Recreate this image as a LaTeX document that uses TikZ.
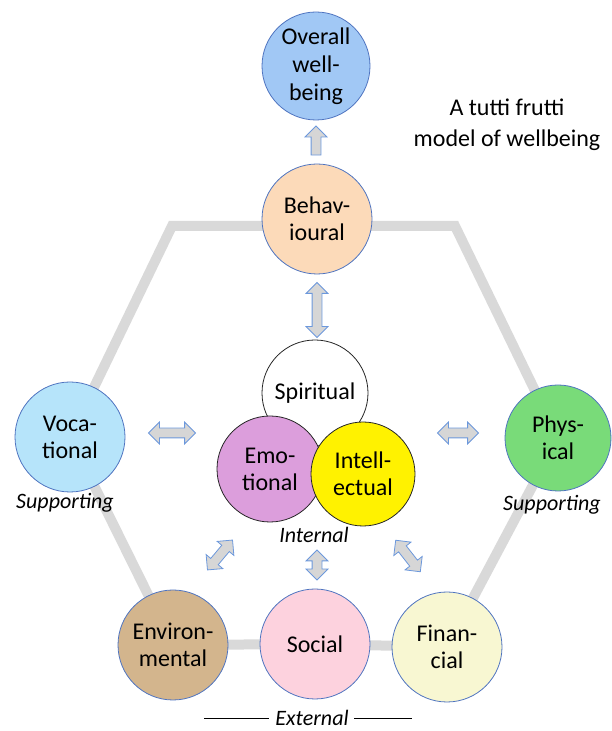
\documentclass[tikz,border=0pt]{standalone}
\usepackage{fontspec}
\setmainfont{Carlito}
\usetikzlibrary{shapes.arrows,backgrounds}
\definecolor{rim}{HTML}{4F74C0}
\definecolor{hexgray}{HTML}{D9D9D9}
\definecolor{arrowgray}{HTML}{D6D6D6}
\definecolor{arrowrim}{HTML}{6C98DC}
\definecolor{overallblue}{HTML}{A1C8F5}
\definecolor{peach}{HTML}{FCDAB9}
\definecolor{skyblue}{HTML}{B6E4FA}
\definecolor{leafgreen}{HTML}{79DB79}
\definecolor{emoplum}{HTML}{DC9EDC}
\definecolor{envtan}{HTML}{D3B58D}
\definecolor{socpink}{HTML}{FDD2DE}
\definecolor{fincream}{HTML}{F8F7D2}
\tikzset{
	wellcircle/.style={circle,draw=rim,line width=.8pt,inner sep=0pt,minimum size=110pt,align=center,font=\fontsize{24}{27}\selectfont},
	corecircle/.style={wellcircle,draw=black!85,minimum size=105pt},
	twoway/.style={double arrow,draw=arrowrim,fill=arrowgray,line width=.8pt,inner xsep=0pt,inner ysep=4.5pt,double arrow head extend=6pt},
	oneway/.style={single arrow,draw=arrowrim,fill=arrowgray,line width=.8pt,inner xsep=0pt,inner ysep=4.5pt,single arrow head extend=6pt},
	sidelabel/.style={font=\fontsize{22}{26}\selectfont\itshape}
}
\begin{document}
\begin{tikzpicture}[x=1pt,y=1pt]
	\useasboundingbox (0,0) rectangle (612,731);
	\node[wellcircle,fill=overallblue,minimum size=108pt,font=\fontsize{24}{28}\selectfont] (overall) at (316,665) {Overall\\well-\\being};
	\node[align=center,font=\fontsize{24}{31}\selectfont] (title) at (507,606) {A tutti frutti\\model of wellbeing};
	\node[wellcircle,fill=peach] (beh) at (317,512) {Behav-\\ioural};
	\node[wellcircle,fill=skyblue] (voc) at (70,294) {Voca-\\tional};
	\node[wellcircle,fill=leafgreen,minimum size=106pt] (phys) at (558,293) {Phys-\\ical};
	\node[wellcircle,fill=envtan] (env) at (173,86) {Environ-\\mental};
	\node[wellcircle,fill=socpink] (soc) at (315,87) {Social};
	\node[wellcircle,fill=fincream] (fin) at (447,84) {Finan-\\cial};
	\node[corecircle,fill=white,minimum size=106pt] (spi) at (315,338) {Spiritual};
	\node[corecircle,fill=emoplum,minimum size=106pt] (emo) at (270,262) {Emo-\\tional};
	\node[corecircle,fill=yellow,minimum size=104pt] (int) at (363,257) {Intell-\\ectual};
	\node[sidelabel] (vocsup) at (65,228) {Supporting};
	\node[sidelabel] (physsup) at (552,226) {Supporting};
	\node[sidelabel] (internal) at (314,196) {Internal};
	\node[sidelabel] (external) at (312,13) {External};
	\draw[line width=.8pt] ([xshift=-3pt]external.west) -- ++(-65,0);
	\draw[line width=.8pt] ([xshift=2pt]external.east) -- ++(58,0);
	\node[oneway,minimum height=29pt,rotate=90] (up) at (316,588) {};
	\node[twoway,minimum height=55pt,rotate=90] (behspi) at (317,421) {};
	\node[twoway,minimum height=47pt] (vocemo) at (172,298) {};
	\node[twoway,minimum height=41pt] (intphys) at (458,298) {};
	\node[twoway,minimum height=30pt,rotate=90] (coresoc) at (317,166) {};
	\node[twoway,minimum height=39pt,rotate=50] (coreenv) at (220,176) {};
	\node[twoway,minimum height=40pt,rotate=-52] (corefin) at (408,175) {};
	\begin{scope}[on background layer]
		\draw[hexgray,line width=10pt]
		(172,505) coordinate (tl) -- (455,505) coordinate (tr)
		-- (phys.center) -- (fin.center) -- (soc.center) -- (env.center)
		-- (voc.center) -- cycle;
	\end{scope}
\end{tikzpicture}
\end{document}
